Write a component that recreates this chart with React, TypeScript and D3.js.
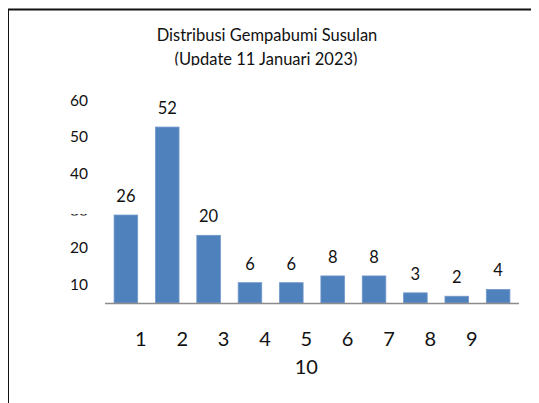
import * as d3 from "d3";

// nilai per kategori
const categories = ["1", "2", "3", "4", "5", "6", "7", "8", "9", "10"];
const counts = [26, 52, 20, 6, 6, 8, 8, 3, 2, 4];
const yTickLabels = [60, 50, 40, 30, 20, 10];
const titleLines = ["Distribusi Gempabumi Susulan", "(Update 11 Januari 2023)"];

const W = 539;
const H = 403;
const FONT = "Lato, 'Open Sans', sans-serif";
const BAR = "#4f81bd";

const App = () => {
  // page coordinates, shifted back by the 8px body margin
  const x = d3
    .scaleBand<string>()
    .domain(categories)
    .range([105, 519])
    .paddingInner(0.43)
    .paddingOuter(0.22);

  const y = d3.scaleLinear().domain([0, 60]).range([303, 100]);

  // tick labels sit on their own (odd) spacing
  const yLabel = d3.scaleLinear().domain([10, 60]).range([284, 100]);

  const bw = x.bandwidth();
  const first = categories.slice(0, 9);
  const lastCat = categories[categories.length - 1];
  const labelX = (c: string) => (x(c) as number) + bw / 2 + 15;
  const lineMid = (labelX(first[0]) + labelX(first[first.length - 1])) / 2;

  const y30 = yLabel(30);

  return (
    <svg width={W - 8} height={H - 8} style={{ display: "block" }}>
      <defs>
        <clipPath id="titleClip">
          <rect x={0} y={0} width={W} height={65.5} />
        </clipPath>
        <clipPath id="tick30">
          <rect x={60} y={y30 + 3.5} width={40} height={1.6} />
        </clipPath>
      </defs>
      <g transform="translate(-8,-8)" fontFamily={FONT}>
        <rect x={0} y={0} width={W} height={H} fill="#fff" />
        {/* frame, runs off the right and bottom */}
        <path d={`M8,${H + 5}V9.5H${W + 5}`} fill="none" stroke="#111" strokeWidth={2} />

        <g clipPath="url(#titleClip)" textAnchor="middle" fontSize={16.5} fill="#111">
          <text x={267} y={40.5}>{titleLines[0]}</text>
          <text x={266} y={64.5}>{titleLines[1]}</text>
        </g>

        {/* y tick labels */}
        <g fontSize={15.5} textAnchor="end" fill="#111">
          {yTickLabels.map((v) => (
            <text
              key={v}
              x={88}
              y={yLabel(v)}
              dy="0.36em"
              clipPath={v === 30 ? "url(#tick30)" : undefined}
            >
              {v}
            </text>
          ))}
        </g>

        {/* bars */}
        {counts.map((v, i) => (
          <rect
            key={categories[i]}
            x={x(categories[i])}
            y={y(v)}
            width={bw}
            height={y(0) - y(v)}
            fill={BAR}
            stroke="#7097c9"
            strokeWidth={0.8}
          />
        ))}

        <line x1={105} x2={519} y1={y(0) + 0.5} y2={y(0) + 0.5} stroke="#8c8c8c" strokeWidth={1.6} />

        {/* value labels */}
        <g fontSize={16.5} textAnchor="middle" fill="#111">
          {counts.map((v, i) => (
            <text key={categories[i]} x={(x(categories[i]) as number) + bw / 2} y={y(v) - 13}>
              {v}
            </text>
          ))}
        </g>

        {/* category labels, wrapped like the original */}
        <g fontSize={20} textAnchor="middle" fill="#111">
          {first.map((c) => (
            <text key={c} x={labelX(c)} y={346}>
              {c}
            </text>
          ))}
          <text x={lineMid} y={374}>{lastCat}</text>
        </g>
      </g>
    </svg>
  );
};

export default App;
